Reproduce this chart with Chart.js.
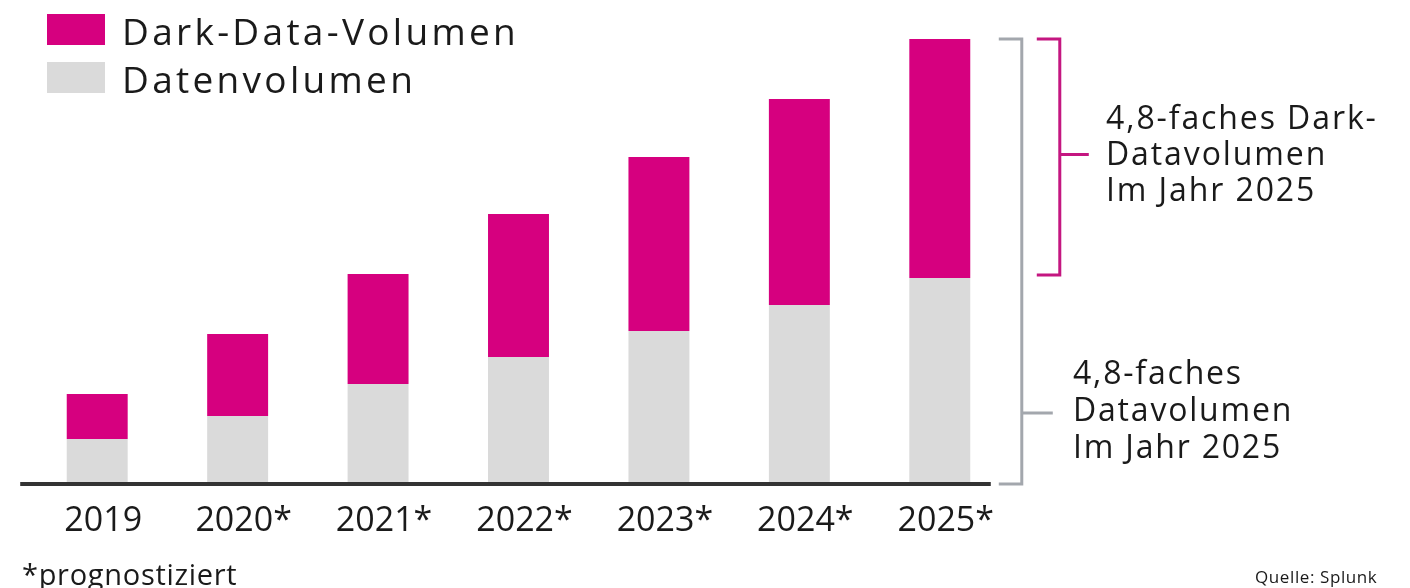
<!DOCTYPE html>
<html>
<head>
<meta charset="utf-8">
<script src="https://cdn.jsdelivr.net/npm/chart.js@4/dist/chart.umd.min.js"></script>
<style>
  html, body { margin: 0; padding: 0; background: #fff; }
  #wrap { position: relative; width: 1410px; height: 588px; font-family: "Open Sans", sans-serif; color: #1a1a1a; }
  #chart { position: absolute; left: 0; top: 0; }
  .lbl { position: absolute; white-space: nowrap; line-height: 1; }
  .box { position: absolute; width: 58px; height: 31px; }
</style>
</head>
<body>
<div id="wrap">
  <canvas id="chart" width="1410" height="588"></canvas>
  <div class="box" id="box1" style="left:47px;top:14px"></div>
  <div class="lbl" id="leg1" style="left:122px;top:12px;font-size:37px;letter-spacing:3.3px"></div>
  <div class="box" id="box2" style="left:47px;top:62px"></div>
  <div class="lbl" id="leg2" style="left:122px;top:60px;font-size:37px;letter-spacing:3.3px"></div>

  <div class="lbl" style="left:1106px;top:99px;font-size:32px;line-height:36px;letter-spacing:1.9px">4,8-faches Dark-<br>Datavolumen<br>Im Jahr 2025</div>
  <div class="lbl" style="left:1073px;top:353px;font-size:32px;line-height:37px;letter-spacing:1.8px">4,8-faches<br>Datavolumen<br>Im Jahr 2025</div>

  <div class="lbl" style="left:22px;top:559px;font-size:29px;letter-spacing:0.7px">*prognostiziert</div>
  <div class="lbl" style="left:1255px;top:568px;font-size:17px;letter-spacing:0.6px">Quelle: Splunk</div>
</div>
<script>
const years = ['2019', '2020*', '2021*', '2022*', '2023*', '2024*', '2025*']
const datenvolumen = [4.5, 6.8, 10.0, 12.7, 15.3, 17.9, 20.6]
const darkData = [4.5, 8.2, 11.0, 14.3, 17.4, 20.6, 23.9]

const magenta = '#d6007f'
const lightGray = '#dadada'

document.getElementById('box1').style.background = magenta
document.getElementById('box2').style.background = lightGray
document.getElementById('leg1').textContent = 'Dark-Data-Volumen'
document.getElementById('leg2').textContent = 'Datenvolumen'

// baseline + brackets, positioned off the scales
const extras = {
  id: 'extras',
  afterDatasetsDraw(chart) {
    const ctx = chart.ctx
    const x = chart.scales.x
    const y = chart.scales.y
    const last = years.length - 1
    const y0 = y.getPixelForValue(0)
    const yGray = y.getPixelForValue(datenvolumen[last])
    const yTop = y.getPixelForValue(datenvolumen[last] + darkData[last])
    const xLast = x.getPixelForValue(last)

    ctx.save()
    // baseline
    ctx.strokeStyle = '#333'
    ctx.lineWidth = 4
    ctx.beginPath()
    ctx.moveTo(x.getPixelForValue(0) - 77, y0)
    ctx.lineTo(xLast + 51, y0)
    ctx.stroke()

    // grey bracket (whole volume)
    ctx.strokeStyle = '#a3a7ad'
    ctx.lineWidth = 3
    ctx.beginPath()
    ctx.moveTo(xLast + 59, yTop)
    ctx.lineTo(xLast + 82, yTop)
    ctx.lineTo(xLast + 82, y0)
    ctx.lineTo(xLast + 59, y0)
    ctx.moveTo(xLast + 82, 413)
    ctx.lineTo(xLast + 113, 413)
    ctx.stroke()

    // magenta bracket (dark data)
    ctx.strokeStyle = '#c41680'
    ctx.beginPath()
    ctx.moveTo(xLast + 97, yTop)
    ctx.lineTo(xLast + 120, yTop)
    ctx.lineTo(xLast + 120, yGray - 3)
    ctx.lineTo(xLast + 97, yGray - 3)
    ctx.moveTo(xLast + 120, (yTop + yGray) / 2 - 4)
    ctx.lineTo(xLast + 149, (yTop + yGray) / 2 - 4)
    ctx.stroke()
    ctx.restore()
  }
}

new Chart(document.getElementById('chart'), {
  type: 'bar',
  data: {
    labels: years,
    datasets: [
      {
        label: 'Datenvolumen',
        data: datenvolumen,
        backgroundColor: lightGray,
        borderWidth: 0
      },
      {
        label: 'Dark-Data-Volumen',
        data: darkData,
        backgroundColor: magenta,
        borderWidth: 0
      }
    ]
  },
  options: {
    responsive: false,
    animation: false,
    layout: { padding: { left: 27, right: 400, top: 39, bottom: 0 } },
    barPercentage: 0.434,
    categoryPercentage: 1,
    plugins: {
      legend: { display: false },
      tooltip: { enabled: false }
    },
    scales: {
      x: {
        stacked: true,
        grid: { display: false },
        border: { display: false },
        ticks: {
          color: '#1a1a1a',
          font: { family: 'Open Sans', size: 34 },
          padding: 9,
          labelOffset: 6
        },
        afterFit: (s) => { s.height = 104 }
      },
      y: {
        stacked: true,
        display: false,
        min: 0,
        max: 44.5
      }
    }
  },
  plugins: [extras]
})
</script>
</body>
</html>
